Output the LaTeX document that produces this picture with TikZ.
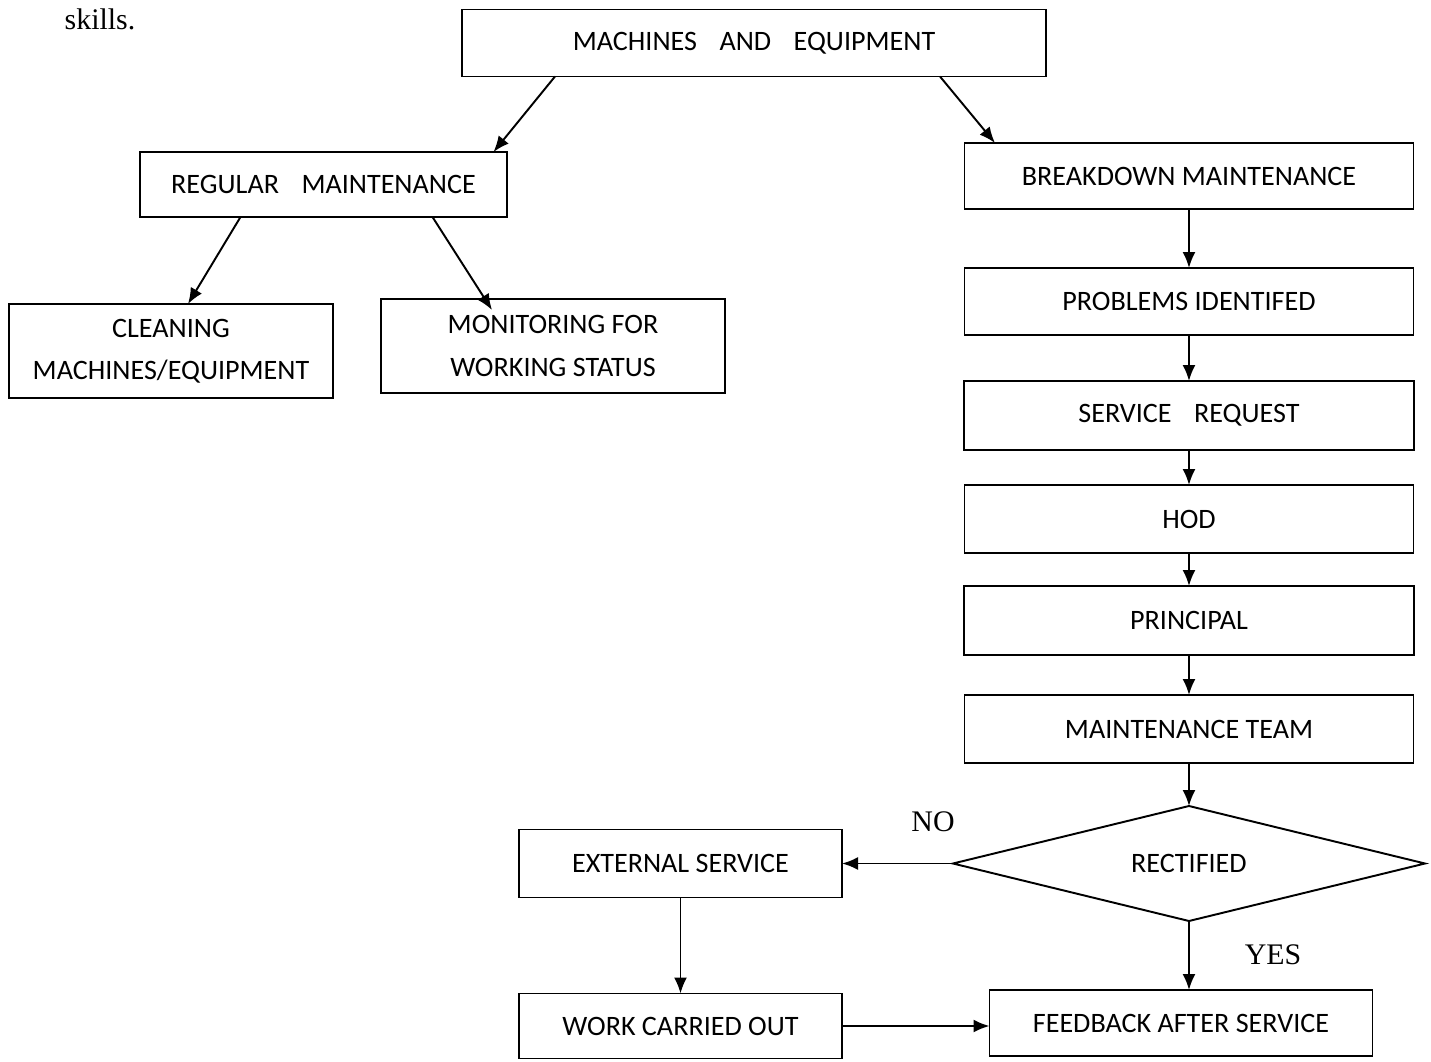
\documentclass[tikz,border=0pt]{standalone}
\usepackage{fontspec}
\setmainfont{Carlito}
\newfontfamily\seriffont{Liberation Serif}
\usetikzlibrary{positioning,shapes.geometric,arrows.meta}

\begin{document}
\begin{tikzpicture}
[node distance=1cm,>={Latex[length=0.32cm,width=0.26cm]},
box/.style={draw, line width=1.1pt, minimum height=1.34cm, inner sep=2pt, outer sep=0pt, align=center, font=\fontsize{16}{24}\selectfont},
decision/.style={draw, diamond, aspect=4.1, line width=1.1pt, minimum width=9.44cm, minimum height=2.3cm, inner sep=0pt, outer sep=0pt, font=\fontsize{16}{24}\selectfont},
arr/.style={->, line width=1.1pt},
tag/.style={font=\seriffont\fontsize{17}{20}\selectfont}]
\useasboundingbox (0,0) rectangle (28.62,-21.24);

\node[tag] (skills) at (2.0,-0.38) {skills.};

\node[box, minimum width=11.68cm] (machines) at (15.08,-0.86) {MACHINES\hspace{0.45cm}AND\hspace{0.45cm}EQUIPMENT};
\node[box, minimum width=7.34cm, minimum height=1.3cm] (regular) at (6.47,-3.69) {REGULAR\hspace{0.45cm}MAINTENANCE};
\node[box, minimum width=8.98cm, minimum height=1.32cm] (breakdown) at (23.78,-3.52) {BREAKDOWN MAINTENANCE};
\node[box, minimum width=6.48cm, minimum height=1.88cm] (cleaning) at (3.42,-7.02) {CLEANING\\MACHINES/EQUIPMENT};
\node[box, minimum width=6.88cm, minimum height=1.88cm] (monitoring) at (11.06,-6.92) {MONITORING FOR\\WORKING STATUS};

\node[box, minimum width=8.98cm, below=1.18 of breakdown] (problems) {PROBLEMS IDENTIFED};
\node[box, minimum width=9.0cm, minimum height=1.38cm, below=0.92 of problems] (service) {SERVICE\hspace{0.45cm}REQUEST};
\node[box, minimum width=8.98cm, minimum height=1.36cm, below=0.70 of service] (hod) {HOD};
\node[box, minimum width=9.0cm, minimum height=1.38cm, below=0.66 of hod] (principal) {PRINCIPAL};
\node[box, minimum width=8.98cm, minimum height=1.36cm, below=0.80 of principal] (team) {MAINTENANCE TEAM};
\node[decision, below=0.86 of team] (rect) {RECTIFIED};
\node[box, minimum width=7.66cm, minimum height=1.32cm, below=1.38 of rect, xshift=-0.16cm] (feedback) {FEEDBACK AFTER SERVICE};
\node[box, minimum width=6.46cm, minimum height=1.36cm, left=2.22 of rect] (external) {EXTERNAL SERVICE};
\node[box, minimum width=6.46cm, minimum height=1.3cm, below=1.92 of external] (work) {WORK CARRIED OUT};

\node[tag] (no) at (18.66,-16.44) {NO};
\node[tag] (yes) at (25.46,-19.10) {YES};

\draw[arr] ([xshift=-3.98cm]machines.south) -- ([xshift=3.4cm]regular.north);
\draw[arr] ([xshift=3.72cm]machines.south) -- ([xshift=-3.88cm]breakdown.north);
\draw[arr] ([xshift=-1.66cm]regular.south) -- ([xshift=0.34cm]cleaning.north);
\draw[arr] ([xshift=2.18cm]regular.south) -- ([xshift=-1.22cm,yshift=-0.22cm]monitoring.north);

\draw[arr] (breakdown) -- (problems);
\draw[arr] (problems) -- (service);
\draw[arr] (service) -- (hod);
\draw[arr] (hod) -- (principal);
\draw[arr] (principal) -- (team);
\draw[arr] (team) -- (rect);
\draw[arr] (rect.south) -- (rect.south |- feedback.north);
\draw[arr] (rect) -- (external);
\draw[arr] (external) -- (work);
\draw[arr] (work.east) -- (work.east -| feedback.west);
\end{tikzpicture}
\end{document}
